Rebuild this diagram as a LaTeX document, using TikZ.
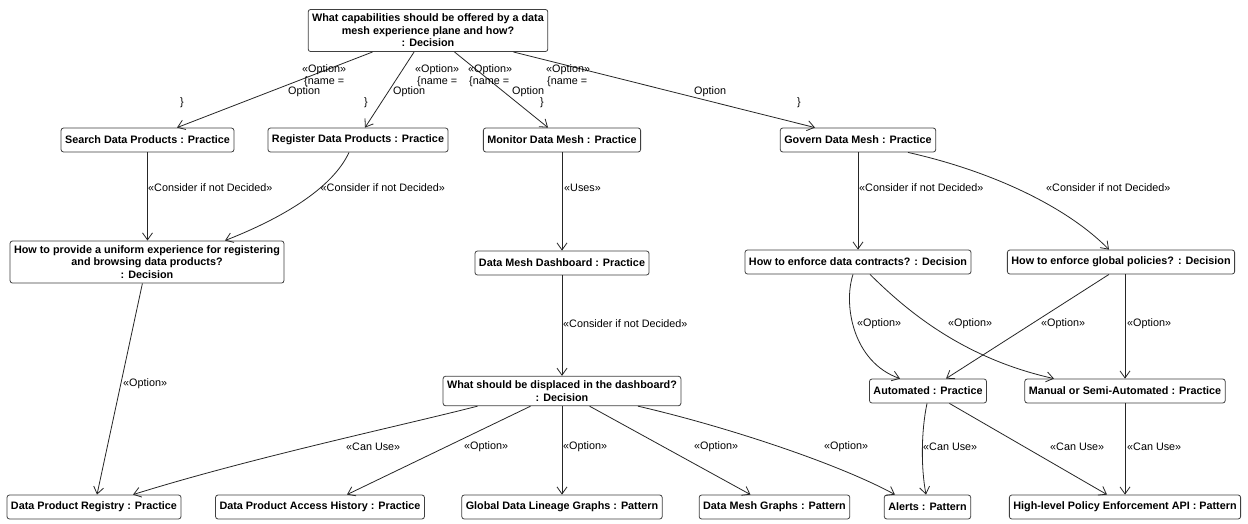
\documentclass[tikz,border=0pt]{standalone}
\usepackage{fontspec}
\setmainfont{Liberation Sans}
\usetikzlibrary{arrows.meta}
\begin{document}
\begin{tikzpicture}[x=1pt,y=-1pt,
  box/.style={draw=black!75, fill=white, rounded corners=2.5pt, line width=0.8pt,
    font=\bfseries\fontsize{10.8}{12.6}\selectfont, inner xsep=4pt, inner ysep=4.5pt,
    minimum height=24pt, align=center},
  lbl/.style={font=\fontsize{10.8}{12}\selectfont, inner sep=0pt, anchor=west},
  link/.style={draw=black!85, line width=0.8pt, -{Straight Barb[length=7pt,width=10pt]}}]
\useasboundingbox[fill=white] (0,0) rectangle (1248,523);

% decisions and practices
\node[box] (top) at (428,30.5) {What capabilities should be offered by a data\\mesh experience plane and how?\\: Decision};
\node[box] (search) at (147.5,140) {Search Data Products : Practice};
\node[box] (register) at (358,140) {Register Data Products : Practice};
\node[box] (monitor) at (562,140) {Monitor Data Mesh : Practice};
\node[box] (govern) at (858,140) {Govern Data Mesh : Practice};
\node[box] (uniform) at (147,262) {How to provide a uniform experience for registering\\and browsing data products?\\: Decision};
\node[box] (dashboard) at (562,263) {Data Mesh Dashboard : Practice};
\node[box] (contracts) at (858,262) {How to enforce data contracts? : Decision};
\node[box] (globalpol) at (1121,262) {How to enforce global policies? : Decision};
\node[box] (displaced) at (562,391) {What should be displaced in the dashboard?\\: Decision};
\node[box] (automated) at (928,391) {Automated : Practice};
\node[box] (manual) at (1125,391) {Manual or Semi-Automated : Practice};
\node[box] (registry) at (94,507) {Data Product Registry : Practice};
\node[box] (access) at (320,507) {Data Product Access History : Practice};
\node[box] (lineage) at (562,507) {Global Data Lineage Graphs : Pattern};
\node[box] (meshgraphs) at (774.5,507) {Data Mesh Graphs : Pattern};
\node[box] (alerts) at (927.5,507) {Alerts : Pattern};
\node[box] (api) at (1125,507) {High-level Policy Enforcement API : Pattern};

% options of the top decision
\draw[link] (top) -- ([xshift=29.5pt]search.north);
\draw[link] (top) -- ([xshift=7pt]register.north);
\draw[link] (top) -- ([xshift=-14pt]monitor.north);
\draw[link] (top) -- ([xshift=-43pt]govern.north);
\foreach \a/\b/\c/\d in {302/304/288/180, 415/417/393/364, 468/469/512/540, 546/547/694/797}{
  \node[lbl] at (\a,70) {«Option»};
  \node[lbl] at (\b,81.5) {\{name =};
  \node[lbl] at (\c,92) {Option};
  \node[lbl] at (\d,102.5) {\}};
}

% registering and browsing
\draw[link] (search) -- (search |- uniform.north);
\node[lbl] at (148,188) {«Consider if not Decided»};
\draw[link] ([xshift=-9pt]register.south) .. controls (334,185) and (290,215) .. ([xshift=78pt]uniform.north);
\node[lbl] at (320.5,188) {«Consider if not Decided»};
\draw[link] (uniform) -- ([xshift=3pt]registry.north);
\node[lbl] at (123,384) {«Option»};

% monitoring
\draw[link] (monitor) -- (dashboard);
\node[lbl] at (564,188) {«Uses»};
\draw[link] (dashboard) -- (displaced);
\node[lbl] at (563,324) {«Consider if not Decided»};

% governance
\draw[link] (govern) -- (contracts);
\node[lbl] at (859,188) {«Consider if not Decided»};
\draw[link] ([xshift=50pt]govern.south) .. controls (995,172) and (1068,208) .. ([xshift=-12pt]globalpol.north);
\node[lbl] at (1046,188) {«Consider if not Decided»};
\draw[link] ([xshift=-5pt]contracts.south) .. controls (843,305) and (853,362) .. ([xshift=-28pt]automated.north);
\node[lbl] at (857,324) {«Option»};
\draw[link] ([xshift=12pt]contracts.south) .. controls (906,310) and (962,358) .. ([xshift=-71pt]manual.north);
\node[lbl] at (948,324) {«Option»};
\draw[link] ([xshift=-12pt]globalpol.south) -- ([xshift=18pt]automated.north);
\node[lbl] at (1041,324) {«Option»};
\draw[link] (manual.north |- globalpol.south) -- (manual.north);
\node[lbl] at (1127,324) {«Option»};

% dashboard contents
\draw[link] ([xshift=-84.5pt]displaced.south) .. controls (400,426) and (250,458) .. ([xshift=39pt]registry.north);
\node[lbl] at (346,447) {«Can Use»};
\draw[link] (displaced) -- ([xshift=27pt]access.north);
\node[lbl] at (464,447) {«Option»};
\draw[link] (displaced) -- (lineage);
\node[lbl] at (563,447) {«Option»};
\draw[link] (displaced) -- ([xshift=-24pt]meshgraphs.north);
\node[lbl] at (694,447) {«Option»};
\draw[link] ([xshift=76pt]displaced.south) .. controls (720,425) and (835,462) .. ([xshift=-32.5pt]alerts.north);
\node[lbl] at (824,447) {«Option»};

% patterns used by the practices
\draw[link] ([xshift=-1pt]automated.south) .. controls (921,432) and (921,468) .. ([xshift=-1.5pt]alerts.north);
\node[lbl] at (923,447) {«Can Use»};
\draw[link] (automated) -- ([xshift=-18pt]api.north);
\node[lbl] at (1050,447) {«Can Use»};
\draw[link] (manual) -- (api);
\node[lbl] at (1127,447) {«Can Use»};
\end{tikzpicture}
\end{document}
